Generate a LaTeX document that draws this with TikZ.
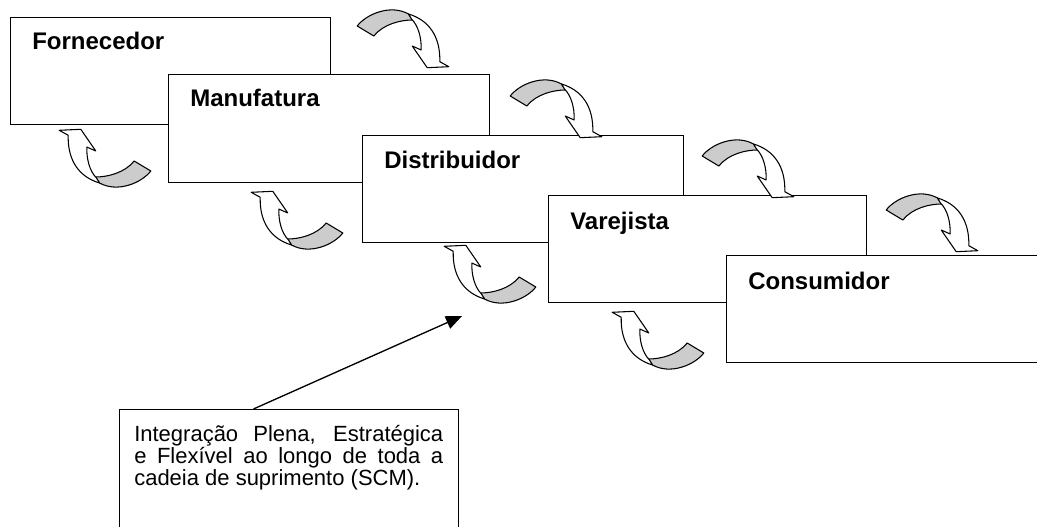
\documentclass[tikz,border=0pt]{standalone}
\usepackage{fontspec}
\setmainfont{Liberation Sans}
\usetikzlibrary{arrows.meta,calc}
\tikzset{
  stagebox/.style={draw, line width=1.1pt, fill=white, minimum width=#1, minimum height=107*0.75pt, anchor=north west, inner sep=0pt},
  stagetitle/.style={font=\bfseries\fontsize{18}{20}\selectfont, anchor=base west, inner sep=0pt},
  callline/.style={font=\fontsize{16.5}{16.5}\selectfont, anchor=base west, inner sep=0pt},
  ribbonback/.style={draw, line width=0.8pt, fill=black!20, line join=round},
  ribbonfront/.style={draw, line width=0.8pt, fill=white, line join=round},
  carrow/.pic={
    \begin{scope}[shift={(-52.5,-41)}]
      \path[ribbonback] (6.7,30) .. controls (16,18) and (40,8) .. (58,18)
        -- (62,24) .. controls (50,24) and (33,28) .. (23.3,40) -- cycle;
      \path[ribbonfront] (58,18) .. controls (78,24) and (90,40) .. (89.3,65.7)
        -- (98.3,70.7) -- (76.7,71.7) -- (61.7,50) -- (70.7,54)
        .. controls (71,42) and (68,30) .. (61,23) -- cycle;
    \end{scope}
  }
}
\begin{document}
\begin{tikzpicture}[x=0.75pt,y=-0.75pt]
\useasboundingbox (0,0) rectangle (1037,527);
\clip (0,0) rectangle (1037,527);

\node[stagebox=320*0.75pt] (forn) at (10,17) {};
\node[stagetitle] (fornT) at (32,50) {Fornecedor};
\node[stagebox=321*0.75pt, minimum height=108*0.75pt] (manu) at (168,74) {};
\node[stagetitle] (manuT) at (190,107) {Manufatura};
\node[stagebox=321*0.75pt] (dist) at (362,135) {};
\node[stagetitle] (distT) at (384,169) {Distribuidor};
\node[stagebox=318*0.75pt] (vare) at (548,195) {};
\node[stagetitle] (vareT) at (570,229) {Varejista};
\node[stagebox=340*0.75pt] (cons) at (726,255) {};
\node[stagetitle] (consT) at (748,289) {Consumidor};

\pic (ta1) at (403,37) {carrow};
\pic (ta2) at (556,107) {carrow};
\pic (ta3) at (748,167) {carrow};
\pic (ta4) at (932,221) {carrow};

\pic[rotate=180] (ba1) at (105,160) {carrow};
\pic[rotate=180] (ba2) at (297,222) {carrow};
\pic[rotate=180] (ba3) at (490,276) {carrow};
\pic[rotate=180] (ba4) at (658,342) {carrow};

\node[draw, line width=1.1pt, fill=white, anchor=north west, inner sep=0pt,
      minimum width=339*0.75pt, minimum height=140*0.75pt] (call) at (119,409) {};
\node[callline] (callA) at (134,441) {\hbox to 231.75pt{Integração Plena, Estratégica}};
\node[callline] (callB) at (134,463) {\hbox to 231.75pt{e Flexível ao longo de toda a}};
\node[callline] (callC) at (134,485) {cadeia de suprimento (SCM).};
\coordinate (tip) at (462,316);
\draw[line width=1pt, -{Triangle[length=12pt,width=10pt]}] ($(call.north west)!0.395!(call.north east)$) -- (tip);
\end{tikzpicture}
\end{document}
